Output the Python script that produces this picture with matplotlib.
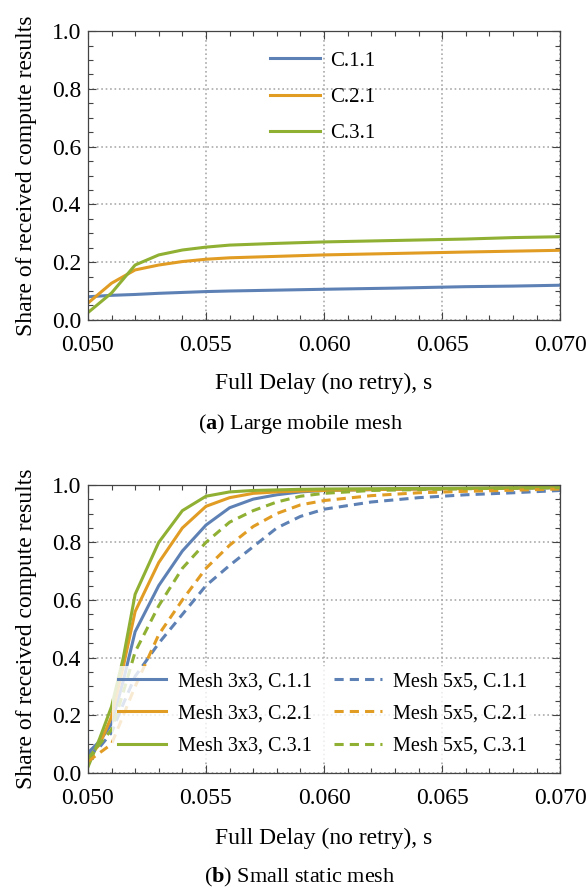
import numpy as np
import matplotlib
matplotlib.use('Agg')
import matplotlib.pyplot as plt
from matplotlib.ticker import MultipleLocator

plt.rcParams['font.family'] = ['Liberation Serif', 'DejaVu Serif']
plt.rcParams['mathtext.fontset'] = 'custom'
plt.rcParams['mathtext.rm'] = 'Liberation Serif'
plt.rcParams['mathtext.bf'] = 'Liberation Serif:bold'

# цвета в стиле Mathematica
blue = '#5E81B5'
orange = '#E19C24'
green = '#8FB032'

# (a) Large mobile mesh
xa = [0.050, 0.051, 0.052, 0.053, 0.054, 0.055, 0.056, 0.058, 0.060, 0.063, 0.066, 0.068, 0.070]
a_c11 = [0.080, 0.085, 0.088, 0.092, 0.095, 0.098, 0.100, 0.103, 0.106, 0.110, 0.115, 0.117, 0.120]
a_c21 = [0.058, 0.127, 0.173, 0.190, 0.202, 0.210, 0.215, 0.220, 0.225, 0.230, 0.235, 0.238, 0.241]
a_c31 = [0.025, 0.093, 0.190, 0.225, 0.242, 0.252, 0.259, 0.265, 0.270, 0.275, 0.280, 0.285, 0.288]

# (b) Small static mesh
xb = [0.050, 0.0505, 0.051, 0.0515, 0.052, 0.053, 0.054, 0.055, 0.056, 0.057, 0.058, 0.059,
      0.060, 0.062, 0.064, 0.066, 0.068, 0.070]
m3_c11 = [0.07, 0.11, 0.17, 0.32, 0.49, 0.65, 0.77, 0.86, 0.92, 0.95, 0.965, 0.975,
          0.980, 0.983, 0.985, 0.987, 0.988, 0.99]
m3_c21 = [0.05, 0.10, 0.195, 0.37, 0.56, 0.73, 0.85, 0.925, 0.955, 0.97, 0.975, 0.978,
          0.980, 0.983, 0.985, 0.987, 0.988, 0.99]
m3_c31 = [0.02, 0.12, 0.23, 0.40, 0.62, 0.80, 0.91, 0.96, 0.975, 0.98, 0.982, 0.984,
          0.985, 0.986, 0.987, 0.988, 0.989, 0.99]
m5_c11 = [0.06, 0.09, 0.14, 0.24, 0.335, 0.45, 0.55, 0.65, 0.72, 0.785, 0.85, 0.89,
          0.915, 0.94, 0.955, 0.965, 0.972, 0.98]
m5_c21 = [0.04, 0.07, 0.10, 0.20, 0.30, 0.48, 0.60, 0.71, 0.79, 0.855, 0.90, 0.93,
          0.945, 0.962, 0.972, 0.977, 0.981, 0.985]
m5_c31 = [0.05, 0.10, 0.15, 0.28, 0.42, 0.58, 0.71, 0.80, 0.87, 0.91, 0.94, 0.96,
          0.97, 0.98, 0.983, 0.986, 0.988, 0.99]

fig = plt.figure(figsize=(5.86, 8.91), dpi=100)
ax1 = fig.add_axes([0.150, 0.641, 0.806, 0.324])
ax2 = fig.add_axes([0.150, 0.1325, 0.806, 0.3235])


def style(ax):
    ax.set_xlim(0.050, 0.070)
    ax.set_ylim(0.0, 1.0)
    ax.xaxis.set_minor_locator(MultipleLocator(0.001))
    ax.yaxis.set_minor_locator(MultipleLocator(0.05))
    ax.set_xticks([0.050, 0.055, 0.060, 0.065, 0.070])
    ax.set_xticklabels(['0.050', '0.055', '0.060', '0.065', '0.070'])
    ax.set_yticks([0.0, 0.2, 0.4, 0.6, 0.8, 1.0])
    ax.set_yticklabels(['0.0', '0.2', '0.4', '0.6', '0.8', '1.0'])
    ax.tick_params(which='both', direction='in', top=True, right=True,
                   color='#444444', width=0.8, labelsize=17)
    ax.tick_params(which='major', length=6)
    ax.tick_params(which='minor', length=3.5)
    ax.tick_params(axis='x', which='major', pad=11)
    ax.tick_params(axis='y', which='major', pad=5)
    for s in ax.spines.values():
        s.set_color('#444444')
        s.set_linewidth(0.9)
    ax.grid(True, which='major', linestyle=':', color='#aaaaaa', linewidth=1.2)
    ax.set_xlabel('Full Delay (no retry), s', fontsize=17)
    ax.set_ylabel('Share of received compute results', fontsize=17)
    ax.yaxis.set_label_coords(-0.108, 0.5)


style(ax1)
ax1.xaxis.set_label_coords(0.5, -0.185)
ax1.plot(xa, a_c11, color=blue, lw=2.2, label='C.1.1')
ax1.plot(xa, a_c21, color=orange, lw=2.2, label='C.2.1')
ax1.plot(xa, a_c31, color=green, lw=2.2, label='C.3.1')
ax1.legend(loc='center', frameon=False, fontsize=15, handlelength=2.4,
           handletextpad=0.5, labelspacing=0.8, bbox_to_anchor=(0.497, 0.772))

style(ax2)
ax2.xaxis.set_label_coords(0.5, -0.19)
dash = (0, (3, 2))
ax2.plot(xb, m3_c11, color=blue, lw=2.2, label='Mesh 3x3, C.1.1')
ax2.plot(xb, m3_c21, color=orange, lw=2.2, label='Mesh 3x3, C.2.1')
ax2.plot(xb, m3_c31, color=green, lw=2.2, label='Mesh 3x3, C.3.1')
ax2.plot(xb, m5_c11, color=blue, lw=2.2, ls=dash, label='Mesh 5x5, C.1.1')
ax2.plot(xb, m5_c21, color=orange, lw=2.2, ls=dash, label='Mesh 5x5, C.2.1')
ax2.plot(xb, m5_c31, color=green, lw=2.2, ls=dash, label='Mesh 5x5, C.3.1')
ax2.legend(loc='center', ncol=2, fontsize=14.5, handlelength=2.4,
           handletextpad=0.55, labelspacing=0.65, columnspacing=1.1,
           framealpha=0.8, edgecolor='none', fancybox=False,
           borderpad=0.3, bbox_to_anchor=(0.497, 0.205))

fig.text(0.512, 1 - 424 / 891, r'($\mathbf{a}$) Large mobile mesh', ha='center', va='center', fontsize=16)
fig.text(0.512, 1 - 877 / 891, r'($\mathbf{b}$) Small static mesh', ha='center', va='center', fontsize=16)

fig.savefig('out.png', dpi=100)
